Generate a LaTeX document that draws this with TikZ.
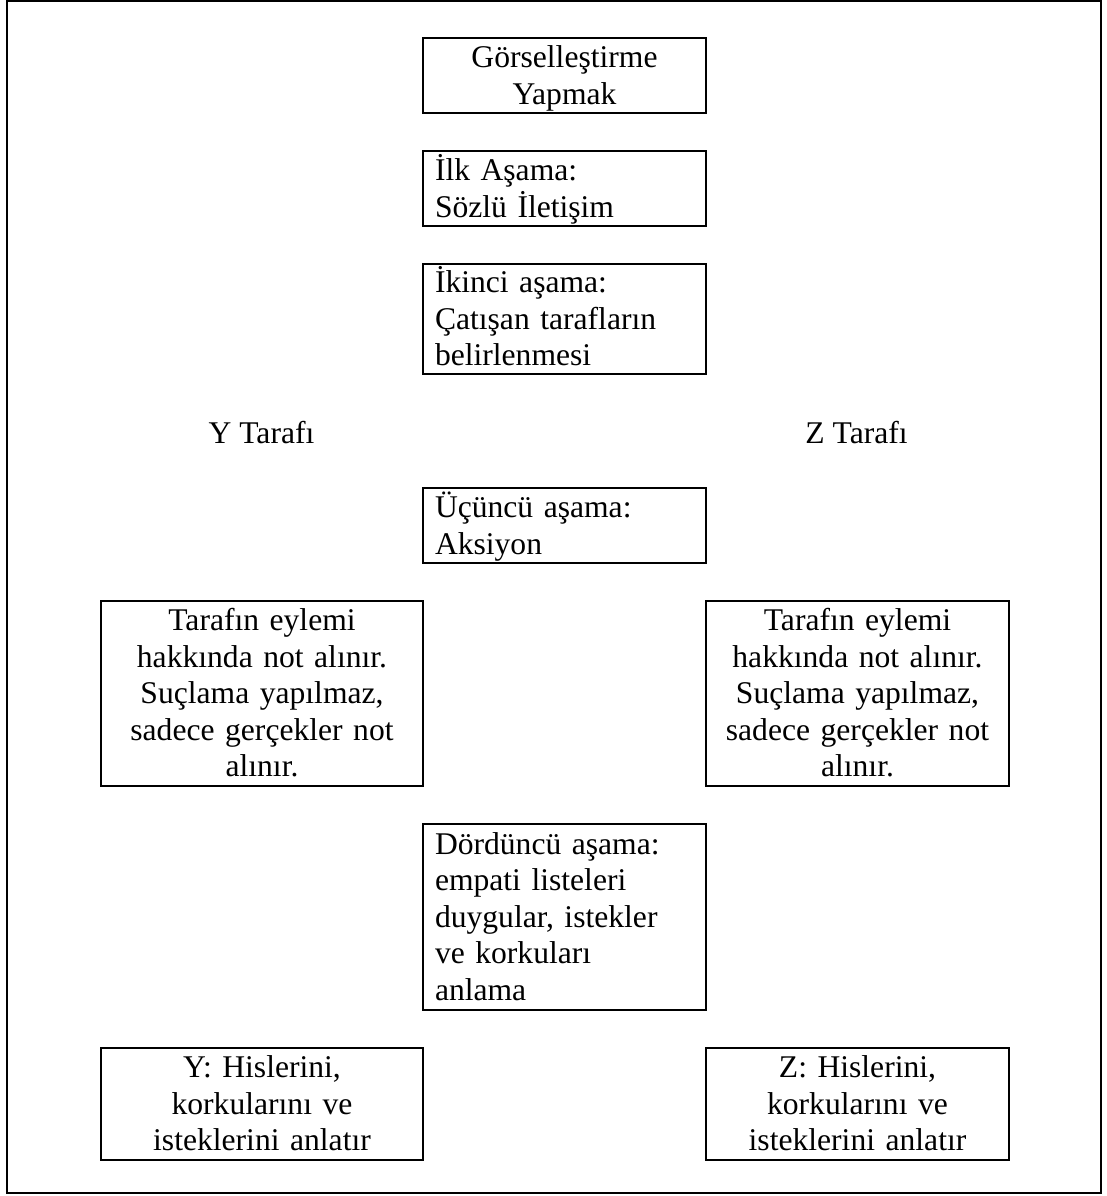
\documentclass[tikz,border=0pt]{standalone}
\usepackage{fontspec}
\setmainfont{Liberation Serif}
\newcommand\fsz{\fontsize{15.8pt}{18.3pt}\selectfont}
\newcommand\ls{\rule[-4pt]{0pt}{18.3pt}}
\begin{document}
\begin{tikzpicture}[x=0.5pt,y=-0.5pt,
  box/.style={draw, line width=1pt, inner xsep=6pt, inner ysep=0pt, font=\fsz, anchor=center},
  midbox/.style={box, minimum width=141.5pt, text width=129.5pt},
  leftbox/.style={box, minimum width=161pt, text width=149pt, align=center},
  rightbox/.style={box, minimum width=151.5pt, text width=139.5pt, align=center},
  lbl/.style={font=\fsz, inner sep=0pt, anchor=base}]
\useasboundingbox (0,0) rectangle (1107,1196);
\draw[line width=1pt] (7,1) rectangle (1100.5,1193);

\node[midbox, align=center, minimum height=37.5pt] (b1) at (564.5,75.5)
  {\ls Görselleştirme\\\ls Yapmak};
\node[midbox, align=left, minimum height=37.5pt] (b2) at (564.5,188.5)
  {\ls İlk Aşama:\\\ls Sözlü İletişim};
\node[midbox, align=left, minimum height=55pt] (b3) at (564.5,319)
  {\ls İkinci aşama:\\\ls Çatışan tarafların\\\ls belirlenmesi};

\node[lbl] (yt) at (261.5,443) {Y Tarafı};
\node[lbl] (zt) at (856.5,443) {Z Tarafı};

\node[midbox, align=left, minimum height=37.5pt] (b4) at (564.5,525.5)
  {\ls Üçüncü aşama:\\\ls Aksiyon};

\node[leftbox, minimum height=92.5pt] (tl) at (262,693.3)
  {\ls Tarafın eylemi\\\ls hakkında not alınır.\\\ls Suçlama yapılmaz,\\\ls sadece gerçekler not\\\ls alınır.};
\node[rightbox, minimum height=92.5pt] (tr) at (857.5,693.3)
  {\ls Tarafın eylemi\\\ls hakkında not alınır.\\\ls Suçlama yapılmaz,\\\ls sadece gerçekler not\\\ls alınır.};

\node[midbox, align=left, minimum height=93pt] (b5) at (564.5,917)
  {\ls Dördüncü aşama:\\\ls empati listeleri\\\ls duygular, istekler\\\ls ve korkuları\\\ls anlama};

\node[leftbox, minimum height=56pt] (bl) at (262,1104)
  {\ls Y: Hislerini,\\\ls korkularını ve\\\ls isteklerini anlatır};
\node[rightbox, minimum height=56pt] (br) at (857.5,1104)
  {\ls Z: Hislerini,\\\ls korkularını ve\\\ls isteklerini anlatır};
\end{tikzpicture}
\end{document}
